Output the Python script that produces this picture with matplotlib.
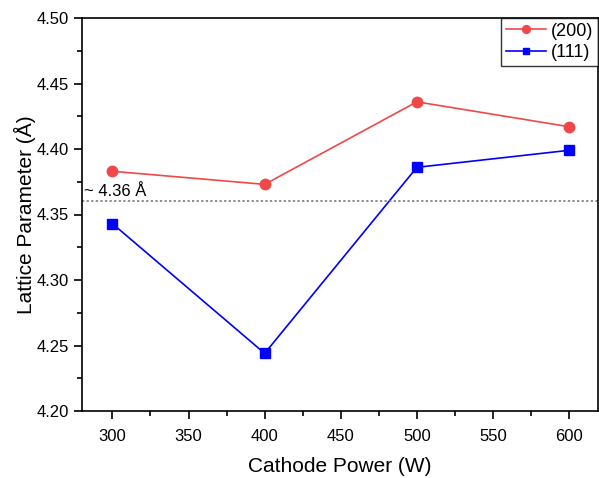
import matplotlib
matplotlib.use("Agg")
import matplotlib.pyplot as plt
from matplotlib.ticker import MultipleLocator, FormatStrFormatter

power = [300, 400, 500, 600]
lp_200 = [4.383, 4.373, 4.436, 4.417]
lp_111 = [4.343, 4.244, 4.386, 4.399]
ref_value = 4.36
ref_label = "~ 4.36 Å"

plt.rcParams['font.family'] = ['Liberation Sans', 'DejaVu Sans']

W, H = 599, 478
fig = plt.figure(figsize=(W / 100, H / 100), dpi=100)
ax = fig.add_axes([82 / W, 1 - 411 / H, (598 - 82) / W, (411 - 18) / H])

red = '#F04848'
blue = '#0000FF'
ax.plot(power, lp_200, color=red, lw=1.2, marker='o', ms=7.5, label='(200)')
ax.plot(power, lp_111, color=blue, lw=1.2, marker='s', ms=6.5, label='(111)')
ax.axhline(ref_value, color='#707070', lw=1.1, ls=(0, (1.5, 1.5)))
ax.text(281, ref_value + 0.002, ref_label, fontsize=12, ha='left', va='bottom')

ax.set_xlim(280, 619)
ax.set_ylim(4.20, 4.50)
ax.xaxis.set_major_locator(MultipleLocator(50))
ax.xaxis.set_minor_locator(MultipleLocator(25))
ax.yaxis.set_major_locator(MultipleLocator(0.05))
ax.yaxis.set_minor_locator(MultipleLocator(0.025))
ax.yaxis.set_major_formatter(FormatStrFormatter('%.2f'))
ax.tick_params(which='both', direction='out', top=False, right=False, labelsize=12, width=1.2)
ax.tick_params(which='major', length=6)
ax.tick_params(which='minor', length=3.5)
ax.tick_params(axis='x', which='major', pad=7)
for s in ax.spines.values():
    s.set_linewidth(1.2)

ax.set_xlabel('Cathode Power (W)', fontsize=15, labelpad=9)
ax.set_ylabel('Lattice Parameter (Å)', fontsize=15, labelpad=0.5)

leg = ax.legend(loc='upper right', fontsize=13, frameon=True, fancybox=False,
                edgecolor='black', borderaxespad=0, handlelength=2.2,
                handletextpad=0.3, borderpad=0.25, labelspacing=0.25,
                markerscale=0.75)
leg.get_frame().set_linewidth(1.0)

fig.savefig('out.png', dpi=100)
